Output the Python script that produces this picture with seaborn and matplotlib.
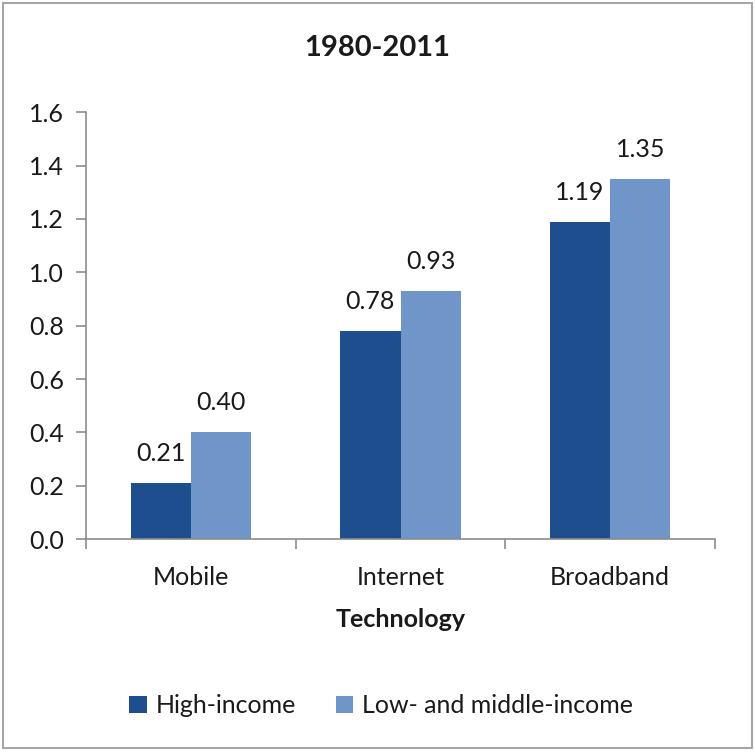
import matplotlib
matplotlib.use("Agg")
import matplotlib.pyplot as plt
import matplotlib.patches as mpatches
from matplotlib.ticker import FixedLocator, FormatStrFormatter
import seaborn as sns
import pandas as pd

technologies = ["Mobile", "Internet", "Broadband"]
groups = ["High-income", "Low- and middle-income"]
high_income = [0.21, 0.78, 1.19]
low_middle_income = [0.40, 0.93, 1.35]
colors = ["#1F4E8E", "#7096C9"]

df = pd.DataFrame({
    "Technology": technologies * 2,
    "Group": [groups[0]] * 3 + [groups[1]] * 3,
    "Value": high_income + low_middle_income,
})

sns.set_theme(style="white")
plt.rcParams["font.family"] = ["Lato", "DejaVu Sans"]

fig = plt.figure(figsize=(7.55, 7.53), dpi=100)
ax = fig.add_axes([0.114, 0.284, 0.833, 0.567])

sns.barplot(data=df, x="Technology", y="Value", hue="Group", order=technologies,
            hue_order=groups, palette=colors, width=0.575, gap=0, ax=ax,
            legend=False, saturation=1, errorbar=None, linewidth=0)

for cont in ax.containers:
    ax.bar_label(cont, fmt="%.2f", padding=13, fontsize=18, color="#1a1a1a")

ax.set_ylim(0, 1.6)
ax.set_xlim(-0.5, 2.5)
ax.set_yticks([0.0, 0.2, 0.4, 0.6, 0.8, 1.0, 1.2, 1.4, 1.6])
ax.yaxis.set_major_formatter(FormatStrFormatter("%.1f"))
ax.tick_params(axis="y", which="major", left=True, length=7, width=1.2,
               color="#8c8c8c", labelsize=18, labelcolor="#1a1a1a", pad=9)
ax.xaxis.set_minor_locator(FixedLocator([-0.5, 0.5, 1.5, 2.5]))
ax.tick_params(axis="x", which="major", bottom=False, labelsize=18,
               labelcolor="#1a1a1a", pad=13)
ax.tick_params(axis="x", which="minor", bottom=True, length=7, width=1.2,
               color="#8c8c8c")

for side in ["top", "right"]:
    ax.spines[side].set_visible(False)
for side in ["left", "bottom"]:
    ax.spines[side].set_color("#8c8c8c")
    ax.spines[side].set_linewidth(1.2)

ax.set_ylabel("")
ax.set_xlabel("Technology", fontsize=18, fontweight="bold", color="#1a1a1a",
              labelpad=14)

fig.text(0.5, 0.936, "1980-2011", ha="center", va="center", fontsize=21,
         fontweight="bold", color="#1a1a1a")

handles = [mpatches.Patch(facecolor=c, edgecolor="none") for c in colors]
fig.legend(handles, groups, loc="center", bbox_to_anchor=(0.505, 0.063),
           ncol=2, frameon=False, fontsize=18, handlelength=0.7,
           handleheight=0.7, handletextpad=0.35, columnspacing=1.6,
           labelcolor="#1a1a1a")

fig.patches.append(mpatches.Rectangle((0.004, 0.006), 0.992, 0.99,
                                      transform=fig.transFigure, fill=False,
                                      edgecolor="#a6a6a6", linewidth=1.5))

fig.savefig("out.png", dpi=100, facecolor="white")
